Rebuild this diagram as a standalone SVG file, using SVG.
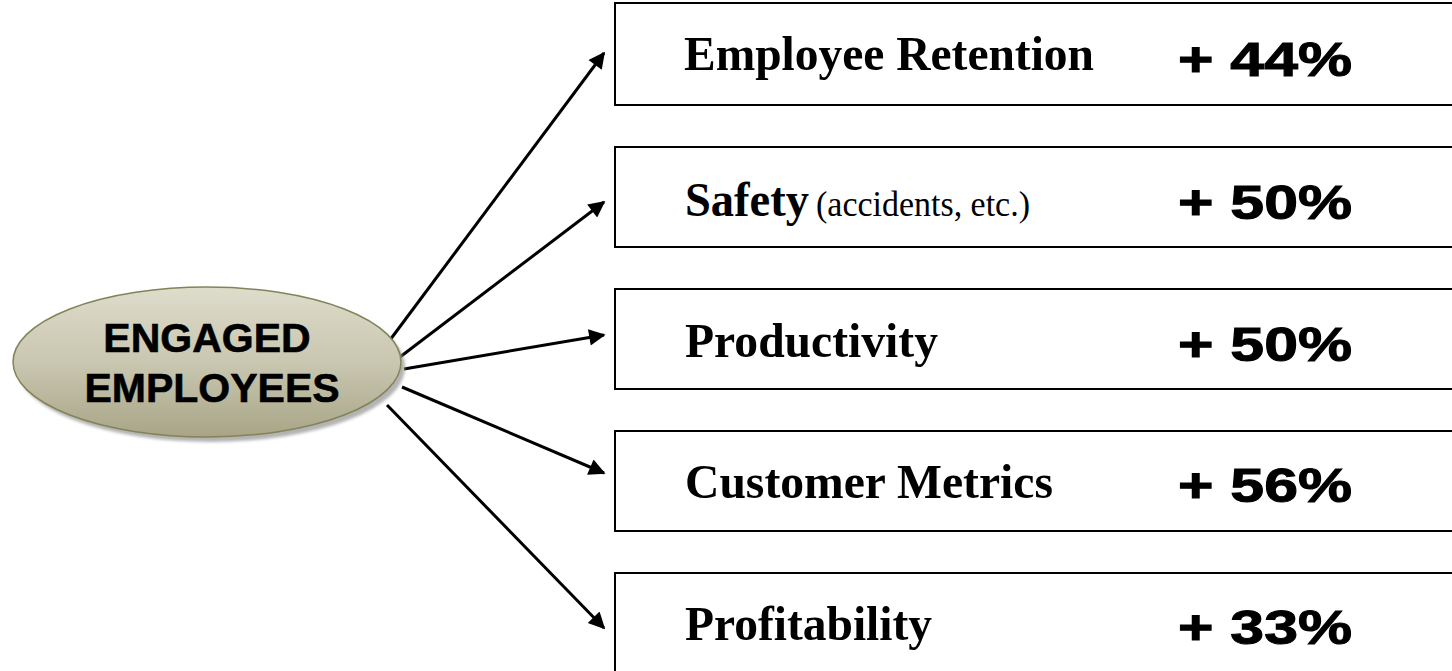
<svg xmlns="http://www.w3.org/2000/svg" width="1452" height="671" viewBox="0 0 1452 671">
  <defs>
    <linearGradient id="oval-fill" x1="0" y1="0" x2="0" y2="1">
      <stop offset="0" stop-color="#dedccb"/>
      <stop offset="0.5" stop-color="#c9c7b0"/>
      <stop offset="1" stop-color="#a8a587"/>
    </linearGradient>
    <filter id="soft-shadow" x="-10%" y="-10%" width="120%" height="130%">
      <feGaussianBlur stdDeviation="1.5"/>
    </filter>
    <marker id="arrowhead" viewBox="0 0 10 10" refX="9" refY="5" markerWidth="6.5" markerHeight="5.5" orient="auto" markerUnits="strokeWidth">
      <path d="M0,0 L10,5 L0,10 Z" fill="#000"/>
    </marker>
  </defs>
  <style>
    .box { fill: #fff; stroke: #000; stroke-width: 2; }
    .label { font-family: "Liberation Serif", "Times New Roman", serif; font-weight: bold; font-size: 49px; fill: #000; }
    .note { font-family: "Liberation Serif", "Times New Roman", serif; font-size: 36px; fill: #000; }
    .pct { font-family: "Liberation Sans", Arial, sans-serif; font-weight: bold; font-size: 48px; fill: #000; stroke: #000; stroke-width: 1; }
    .hub { font-family: "Liberation Sans", Arial, sans-serif; font-weight: bold; font-size: 41px; fill: #000; stroke: #000; stroke-width: 0.6; text-anchor: middle; }
    .link { stroke: #000; stroke-width: 3; fill: none; marker-end: url(#arrowhead); }
  </style>

  <!-- connectors from the hub to each metric -->
  <g id="connectors">
    <line class="link" x1="390" y1="340" x2="604" y2="53"/>
    <line class="link" x1="400" y1="357" x2="604" y2="202"/>
    <line class="link" x1="404" y1="369" x2="604" y2="335"/>
    <line class="link" x1="402" y1="387" x2="604" y2="473"/>
    <line class="link" x1="387" y1="405" x2="604" y2="628"/>
  </g>

  <!-- hub oval -->
  <g id="engaged-employees">
    <ellipse cx="211" cy="367" rx="194" ry="75" fill="#9a9a9a" opacity="0.75" filter="url(#soft-shadow)"/>
    <ellipse cx="207" cy="362" rx="194" ry="75" fill="url(#oval-fill)" stroke="#83835a" stroke-width="1.5"/>
    <text class="hub" x="207" y="352">ENGAGED</text>
    <text class="hub" x="212" y="402">EMPLOYEES</text>
  </g>

  <!-- metric boxes -->
  <g id="employee-retention">
    <rect class="box" x="615" y="3" width="860" height="102"/>
    <text class="label" x="684" y="70" textLength="410" lengthAdjust="spacingAndGlyphs">Employee Retention</text>
    <text class="pct" x="1178" y="76" textLength="174" lengthAdjust="spacingAndGlyphs">+ 44%</text>
  </g>
  <g id="safety">
    <rect class="box" x="615" y="147" width="860" height="100"/>
    <text class="label" x="685" y="216" textLength="124" lengthAdjust="spacingAndGlyphs">Safety</text>
    <text class="note" x="816" y="216" textLength="214" lengthAdjust="spacingAndGlyphs">(accidents, etc.)</text>
    <text class="pct" x="1178" y="219" textLength="174" lengthAdjust="spacingAndGlyphs">+ 50%</text>
  </g>
  <g id="productivity">
    <rect class="box" x="615" y="289" width="860" height="100"/>
    <text class="label" x="685" y="357" textLength="253" lengthAdjust="spacingAndGlyphs">Productivity</text>
    <text class="pct" x="1178" y="361" textLength="174" lengthAdjust="spacingAndGlyphs">+ 50%</text>
  </g>
  <g id="customer-metrics">
    <rect class="box" x="615" y="431" width="860" height="100"/>
    <text class="label" x="685" y="498" textLength="368" lengthAdjust="spacingAndGlyphs">Customer Metrics</text>
    <text class="pct" x="1178" y="502" textLength="174" lengthAdjust="spacingAndGlyphs">+ 56%</text>
  </g>
  <g id="profitability">
    <rect class="box" x="615" y="573" width="860" height="110"/>
    <text class="label" x="685" y="640" textLength="247" lengthAdjust="spacingAndGlyphs">Profitability</text>
    <text class="pct" x="1178" y="644" textLength="174" lengthAdjust="spacingAndGlyphs">+ 33%</text>
  </g>
</svg>
